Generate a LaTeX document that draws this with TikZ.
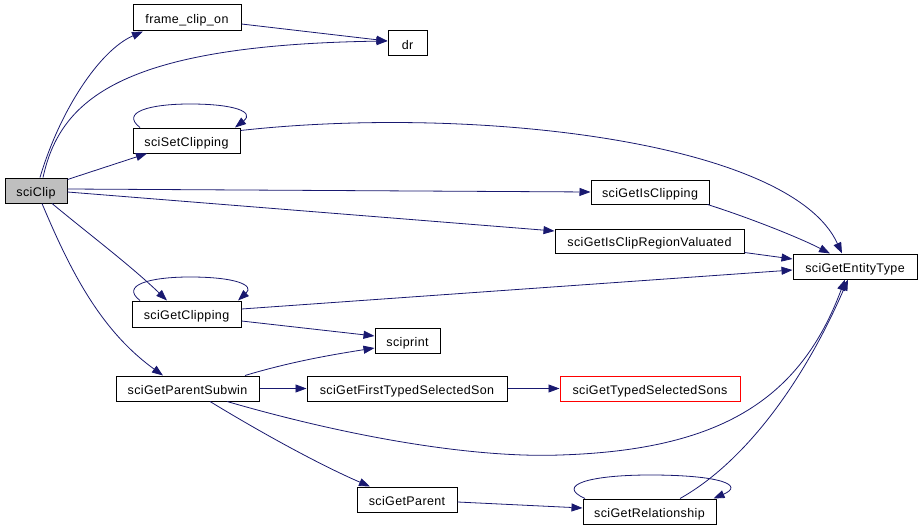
\documentclass[tikz,border=0pt]{standalone}
\usepackage{fontspec}
\setmainfont{Liberation Sans}[LetterSpace=3]
\usetikzlibrary{arrows.meta}
\definecolor{edgeblue}{HTML}{191970}
\definecolor{rootgray}{HTML}{BFBFBF}
\begin{document}
\begin{tikzpicture}[x=1pt,y=-1pt,
  box/.style={draw=black, line width=1pt, rectangle, inner sep=0pt, fill=white,
    text height=11.5pt, text depth=0pt,
    font=\fontsize{12.5}{14}\selectfont},
  edge/.style={draw=edgeblue, line width=0.8pt, -{Triangle[length=11pt,width=8pt]}}]
\useasboundingbox (0,0) rectangle (922,527);
\fill[white] (0,0) rectangle (922,527);

% nodes
\node[box, fill=rootgray, minimum width=62pt, minimum height=25pt] (sciClip) at (36,190.5) {sciClip};
\node[box, minimum width=108pt, minimum height=26pt] (frame) at (187,18) {frame\_clip\_on};
\node[box, minimum width=39pt, minimum height=25pt] (dr) at (407.5,43.5) {dr};
\node[box, minimum width=107pt, minimum height=25pt] (setclip) at (186.5,140.5) {sciSetClipping};
\node[box, minimum width=118pt, minimum height=24pt] (isclip) at (650,192) {sciGetIsClipping};
\node[box, minimum width=189pt, minimum height=24pt] (region) at (649.5,241) {sciGetIsClipRegionValuated};
\node[box, minimum width=124pt, minimum height=25pt] (entity) at (855,266.5) {sciGetEntityType};
\node[box, minimum width=109pt, minimum height=26pt] (getclip) at (186.5,314) {sciGetClipping};
\node[box, minimum width=65pt, minimum height=25pt] (sciprint) at (407.5,340.5) {sciprint};
\node[box, minimum width=143pt, minimum height=25pt] (subwin) at (187.5,388.5) {sciGetParentSubwin};
\node[box, minimum width=200pt, minimum height=25pt] (firstson) at (407,388.5) {sciGetFirstTypedSelectedSon};
\node[box, draw=red, minimum width=180pt, minimum height=25pt] (sons) at (650,388.5) {sciGetTypedSelectedSons};
\node[box, minimum width=100pt, minimum height=25pt] (parent) at (407,499.5) {sciGetParent};
\node[box, minimum width=133pt, minimum height=25pt] (relation) at (649.5,511.5) {sciGetRelationship};

% edges
\draw[edge] ([xshift=4pt]sciClip.north) .. controls (60,110) and (100,50) .. ([xshift=-44pt]frame.south);
\draw[edge] ([xshift=7pt]sciClip.north) .. controls (60,100) and (120,45) .. ([yshift=2.5pt]dr.west);
\draw[edge] ([yshift=-6pt]frame.east) -- ([yshift=2.5pt]dr.west);
\draw[edge] ([yshift=-2pt]sciClip.north east) -- ([xshift=-39.5pt]setclip.south);
\draw[edge] ([xshift=-46.5pt]setclip.north) .. controls (120,112) and (150,104) .. (190,104)
   .. controls (235,104) and (255,112) .. ([xshift=48.5pt]setclip.north);
\draw[edge] ([yshift=-3pt]setclip.north east) .. controls (470,105) and (790,140) .. ([xshift=-13pt]entity.north);
\draw[edge] ([yshift=1.5pt]sciClip.east) -- (isclip.west);
\draw[edge] ([yshift=-1.5pt]sciClip.east) -- ([yshift=10pt]region.west);
\draw[edge] ([xshift=-2pt]isclip.south east) .. controls (750,218) and (800,238) .. ([xshift=-25pt]entity.north);
\draw[edge] ([yshift=1pt]region.south east) -- ([yshift=7.5pt]entity.west);
\draw[edge] ([yshift=5pt]getclip.east) -- ([yshift=-3.5pt]entity.west);
\draw[edge] ([xshift=16pt]sciClip.south) .. controls (90,235) and (130,265) .. ([xshift=-19.5pt]getclip.north);
\draw[edge] ([xshift=6pt]sciClip.south) .. controls (70,270) and (100,330) .. ([xshift=-24.5pt]subwin.north);
\draw[edge] ([xshift=-46.5pt]getclip.north) .. controls (120,285) and (150,277) .. (190,277)
   .. controls (235,277) and (255,285) .. ([xshift=51.5pt]getclip.north);
\draw[edge] ([yshift=-7pt]getclip.east) -- ([yshift=4.5pt]sciprint.west);
\draw[edge] ([xshift=57.5pt]subwin.north) .. controls (290,362) and (330,355) .. ([yshift=-7.5pt]sciprint.west);
\draw[edge] (subwin.east) -- (firstson.west);
\draw[edge] (firstson.east) -- (sons.west);
\draw[edge] ([xshift=39.5pt]subwin.south) .. controls (360,440) and (480,458) .. (560,455)
   .. controls (720,450) and (800,400) .. ([xshift=-10pt]entity.south);
\draw[edge] ([xshift=22.5pt]subwin.south) .. controls (260,432) and (320,465) .. ([xshift=-37pt]parent.north);
\draw[edge] ([yshift=-2.5pt]parent.east) -- ([yshift=3.5pt]relation.west);
\draw[edge] ([xshift=-64.5pt]relation.north) .. controls (555,485) and (590,475) .. (650,475)
   .. controls (720,475) and (745,485) .. ([xshift=64pt]relation.north);
\draw[edge] ([xshift=30.5pt]relation.north) .. controls (740,465) and (800,390) .. ([xshift=-7pt]entity.south);
\end{tikzpicture}
\end{document}
